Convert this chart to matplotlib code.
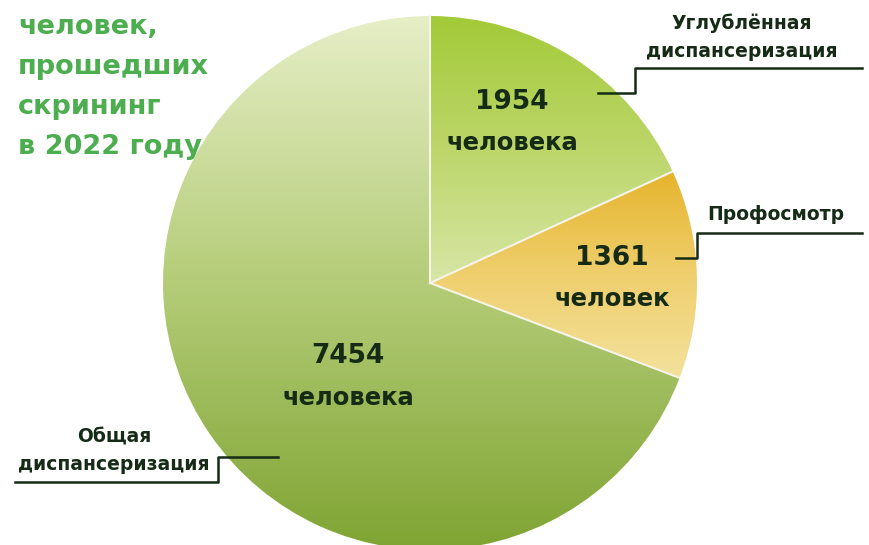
import numpy as np
import matplotlib
matplotlib.use("Agg")
import matplotlib.pyplot as plt
from matplotlib.colors import LinearSegmentedColormap

W, H = 869, 545

# data
values = [1954, 1361, 7454]
units = ["человека", "человек", "человека"]
names = ["Углублённая\nдиспансеризация", "Профосмотр", "Общая\nдиспансеризация"]
title_lines = ["человек,", "прошедших", "скрининг", "в 2022 году"]

# gradient colours (top -> bottom) for each slice
grads = [["#a3ca38", "#bcd66a", "#d8e6a6"],
         ["#e5b42c", "#efcf6e", "#f3e19c"],
         ["#e6eec6", "#b4cc78", "#7fa433"]]

dark = "#152b15"
fig = plt.figure(figsize=(W / 100, H / 100), dpi=100)
ax = fig.add_axes([0, 0, 1, 1])

cx, cy, r = 430, H - 283, 267
wedges, _ = ax.pie(values, startangle=90, counterclock=False, center=(cx, cy),
                   radius=r, frame=True,
                   wedgeprops=dict(edgecolor="none", facecolor="none"))
ax.set_xlim(0, W)
ax.set_ylim(0, H)
ax.set_aspect("equal")
ax.axis("off")

grad = np.linspace(0, 1, 256).reshape(-1, 1)
for w, cols in zip(wedges, grads):
    cmap = LinearSegmentedColormap.from_list("g", cols)
    bb = w.get_path().get_extents(w.get_transform() - ax.transData)
    im = ax.imshow(grad, cmap=cmap, aspect="auto", zorder=0,
                   extent=(bb.x0, bb.x1, bb.y0, min(bb.y1, H)), origin="upper")
    im.set_clip_path(w)
    # light separator along the slice start
    a = np.deg2rad(w.theta1)
    ax.plot([cx, cx + r * np.cos(a)], [cy, cy + r * np.sin(a)],
            color="#f4f4ea", lw=1.5, zorder=1)

def Y(y):
    return H - y

lab = dict(ha="center", va="center", color=dark, fontweight="bold", family="DejaVu Sans")
# slice labels
pos = [(512, 102, 143), (612, 258, 299), (348, 356, 398)]
for (x, y1, y2), v, u in zip(pos, values, units):
    ax.text(x, Y(y1), str(v), fontsize=19, **lab)
    ax.text(x, Y(y2), u, fontsize=17.5, **lab)

# callout names
ax.text(742, Y(37), names[0], fontsize=13.5, linespacing=1.6, **lab)
ax.text(776, Y(215), names[1], fontsize=13.5, **lab)
ax.text(114, Y(451), names[2], fontsize=13.5, linespacing=1.6, **lab)

lk = dict(color=dark, lw=1.8)
ax.plot([598, 635, 635, 862], [Y(93), Y(93), Y(68), Y(68)], **lk)
ax.plot([676, 697, 697, 862], [Y(258), Y(258), Y(233), Y(233)], **lk)
ax.plot([15, 218, 218, 278], [Y(482), Y(482), Y(457), Y(457)], **lk)

# title
for i, t in enumerate(title_lines):
    ax.text(18, Y(27 + 40 * i), t, fontsize=19.5, color="#4cae4f", fontweight="bold",
            ha="left", va="center", family="DejaVu Sans")

fig.savefig("out.png", dpi=100)
